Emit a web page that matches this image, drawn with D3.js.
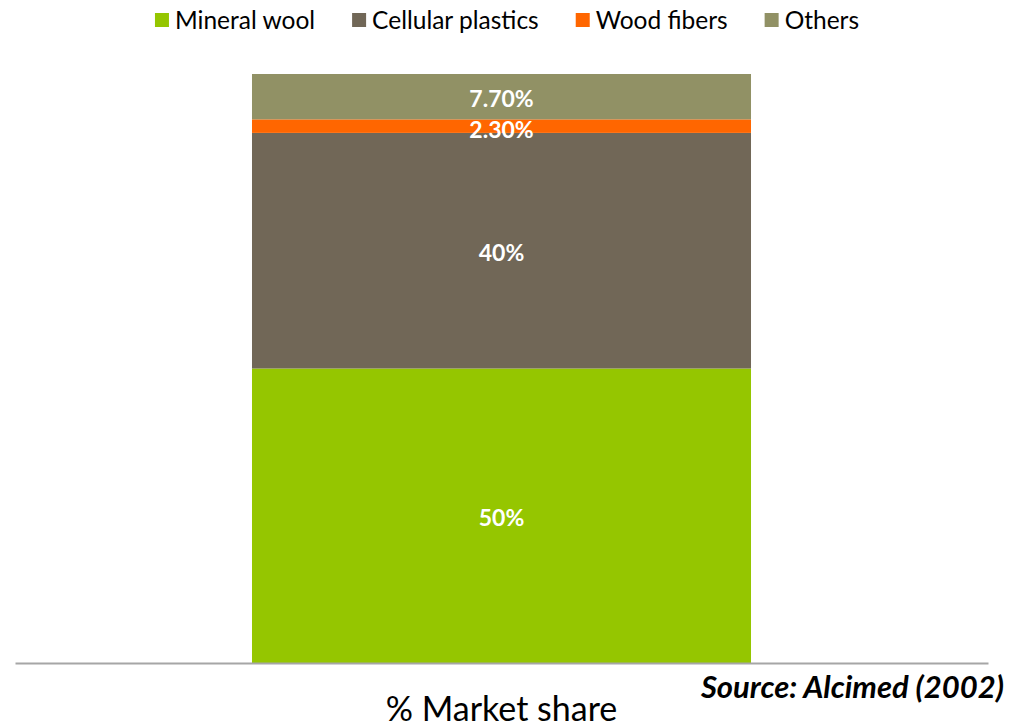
<!DOCTYPE html>
<html>
<head>
<meta charset="utf-8">
<script src="https://cdn.jsdelivr.net/npm/d3@7"></script>
<style>
  html, body { margin: 0; padding: 0; background: #fff; }
  svg { display: block; font-family: Lato, "Liberation Sans", sans-serif; }
</style>
</head>
<body>
<svg id="chart" width="1019" height="728"></svg>
<script>
// Insulation material market share (single stacked column)
const categories = ["% Market share"];
const seriesNames = ["Mineral wool", "Cellular plastics", "Wood fibers", "Others"];
const seriesValues = [50, 40, 2.3, 7.7];
const valueLabels = ["50%", "40%", "2.30%", "7.70%"];
const seriesColors = ["#95c600", "#716757", "#ff6600", "#919165"];
const sourceNote = "Source: Alcimed (2002)";

const svg = d3.select("#chart");
const plot = { left: 15, right: 988, top: 74, bottom: 663 };

const x = d3.scaleBand()
  .domain(categories)
  .range([plot.left, plot.right])
  .paddingInner(0.322)
  .paddingOuter(0.322);

const y = d3.scaleLinear()
  .domain([0, d3.sum(seriesValues)])
  .range([plot.bottom, plot.top]);

// stack the segments
const row = { category: categories[0] };
seriesNames.forEach((s, i) => row[s] = seriesValues[i]);
const stacked = d3.stack().keys(seriesNames)([row]);

const g = svg.append("g");
stacked.forEach((layer, i) => {
  g.selectAll(null)
    .data(layer)
    .join("rect")
    .attr("x", d => x(d.data.category))
    .attr("width", x.bandwidth())
    .attr("y", d => y(d[1]))
    .attr("height", d => y(d[0]) - y(d[1]))
    .attr("fill", seriesColors[i]);
});

// value labels
stacked.forEach((layer, i) => {
  g.selectAll(null)
    .data(layer)
    .join("text")
    .attr("x", d => x(d.data.category) + x.bandwidth() / 2)
    .attr("y", d => (y(d[0]) + y(d[1])) / 2)
    .attr("dy", i === 2 ? "0.5em" : "0.45em")
    .attr("text-anchor", "middle")
    .attr("fill", "#fff")
    .attr("font-weight", "bold")
    .attr("font-size", 23)
    .text(valueLabels[i]);
});

// category axis
const axis = svg.append("g")
  .attr("transform", `translate(0,${plot.bottom})`)
  .call(d3.axisBottom(x).tickSize(0).tickSizeOuter(0).tickPadding(34));
axis.select(".domain").attr("stroke", "#a6a6a6").attr("stroke-width", 2);
axis.selectAll(".tick text")
  .attr("font-family", "Lato, sans-serif")
  .attr("font-size", 34)
  .attr("fill", "#000");

// source note
svg.append("text")
  .attr("x", 1004)
  .attr("y", 698)
  .attr("text-anchor", "end")
  .attr("font-size", 31)
  .attr("font-weight", "bold")
  .attr("font-style", "italic")
  .attr("fill", "#000")
  .text(sourceNote);

// legend
const legend = svg.append("g");
let lx = 0;
seriesNames.forEach((name, i) => {
  const item = legend.append("g").attr("transform", `translate(${lx},0)`);
  item.append("rect").attr("x", 0).attr("y", 13).attr("width", 14).attr("height", 14).attr("fill", seriesColors[i]);
  const t = item.append("text").attr("x", 20).attr("y", 20).attr("dy", "0.35em")
    .attr("font-size", 24.5).attr("fill", "#000").text(name);
  lx += 20 + t.node().getComputedTextLength() + 37;
});
const legendW = lx - 37;
legend.attr("transform", `translate(${507 - legendW / 2},0)`);
</script>
</body>
</html>
